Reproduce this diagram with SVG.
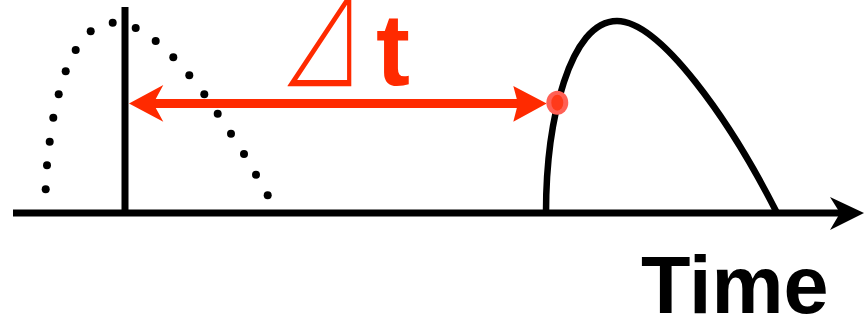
<svg xmlns="http://www.w3.org/2000/svg" width="864" height="320" viewBox="0 0 864 320">
<style>
.blk{stroke:#000;fill:none}
.dot{fill:#000}
.red{fill:#ff2a00}
</style>
<rect width="864" height="320" fill="#fff"/>
<g id="axis">
<line class="blk" x1="13" y1="213" x2="845" y2="213" stroke-width="7"/>
<polygon points="830,197 864,213 830,230 840,213" fill="#000"/>
<text x="641" y="313" font-family="Liberation Sans, Arial, sans-serif" font-weight="bold" font-size="81" fill="#000">Time</text>
</g>
<g id="reference-pulse">
<line class="blk" x1="125" y1="7" x2="125" y2="213" stroke-width="7"/>
<g class="dot">
<circle cx="45.7" cy="189.3" r="4"/>
<circle cx="47" cy="165.3" r="4"/>
<circle cx="49.7" cy="141.7" r="4"/>
<circle cx="53.3" cy="117.7" r="4"/>
<circle cx="58.7" cy="94.3" r="4"/>
<circle cx="65.7" cy="71.3" r="4"/>
<circle cx="75.7" cy="50" r="4"/>
<circle cx="90.7" cy="31.3" r="4"/>
<circle cx="112.7" cy="22.7" r="4"/>
<circle cx="135.7" cy="28" r="4"/>
<circle cx="155.7" cy="41" r="4"/>
<circle cx="173.3" cy="57.3" r="4"/>
<circle cx="189.3" cy="75.3" r="4"/>
<circle cx="204.3" cy="94.3" r="4"/>
<circle cx="217.7" cy="113.7" r="4"/>
<circle cx="231" cy="133.7" r="4"/>
<circle cx="244" cy="154" r="4"/>
<circle cx="256" cy="174.7" r="4"/>
<circle cx="267.7" cy="195.3" r="4"/>
</g>
</g>
<g id="delayed-pulse">
<path class="blk" stroke-width="6.5" d="M546,213 C546,120 570,21 617,21 C660,21 730,120 777,213"/>
</g>
<g id="delta-t">
<line x1="150" y1="103.4" x2="522" y2="103.4" stroke="#ff2a00" stroke-width="9"/>
<polygon class="red" points="129,103.4 163.3,85 153.3,103.4 163.3,121.7"/>
<polygon class="red" points="546.7,103.4 513.3,86 518,103.4 513.3,121.7"/>
<ellipse cx="557.3" cy="102.7" rx="11" ry="12" fill="#ff6055"/>
<ellipse cx="557.3" cy="102.7" rx="6" ry="8" fill="#ff3a1a"/>
<text font-family="Noto Sans CJK JP, sans-serif" font-weight="300" font-size="84" fill="#ff2a00" x="279" y="88" transform="translate(0,88) scale(1,1.5) translate(0,-88)">⊿</text>
<text font-family="Liberation Sans, Arial, sans-serif" font-weight="bold" font-size="102" fill="#ff2a00" x="376" y="85">t</text>
</g>
</svg>
